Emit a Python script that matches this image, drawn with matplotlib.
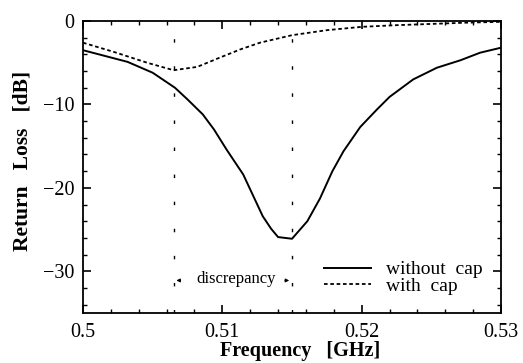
import matplotlib
matplotlib.use('Agg')
import matplotlib.pyplot as plt
from matplotlib.ticker import MultipleLocator

plt.rcParams['font.family'] = ['Liberation Serif', 'DejaVu Serif']

freq_no_cap = [0.5, 0.5016, 0.5032, 0.505, 0.5066, 0.5075, 0.5086, 0.5094, 0.5103,
               0.5115, 0.5129, 0.5135, 0.514, 0.515, 0.5161, 0.517, 0.5179, 0.5187,
               0.5199, 0.5211, 0.522, 0.5237, 0.5254, 0.5271, 0.5285, 0.53]
rl_no_cap = [-3.5, -4.2, -4.9, -6.2, -8.0, -9.4, -11.2, -13.0, -15.4,
             -18.4, -23.4, -24.9, -25.9, -26.1, -24.0, -21.3, -18.0, -15.6,
             -12.7, -10.6, -9.1, -7.0, -5.6, -4.7, -3.8, -3.2]

freq_cap = [0.5, 0.5022, 0.5046, 0.5065, 0.5082, 0.5098, 0.5113, 0.5127, 0.515,
            0.5175, 0.52, 0.5225, 0.525, 0.5275, 0.53]
rl_cap = [-2.6, -3.7, -5.0, -5.9, -5.5, -4.4, -3.4, -2.6, -1.7,
          -1.1, -0.7, -0.5, -0.35, -0.2, -0.1]

marker_freqs = [0.5065, 0.515]

fig = plt.figure(figsize=(5.23, 3.63), dpi=100)
ax = fig.add_axes([83 / 523, 1 - 313 / 363, 418 / 523, 292 / 363])

ax.plot(freq_no_cap, rl_no_cap, color='black', lw=1.4, label='without  cap')
ax.plot(freq_cap, rl_cap, color='black', lw=1.3, ls=(0, (2, 1.5)), label='with  cap')

for f in marker_freqs:
    ax.axvline(f, color='black', lw=1.0, ls=(0, (2.5, 17)))

ax.text(0.5110, -30.9, 'discrepancy', ha='center', va='center', fontsize=12)
ax.annotate('', xy=(marker_freqs[0], -31.1), xytext=(0.5072, -31.1),
            arrowprops=dict(arrowstyle='-|>', color='black', lw=0.8, mutation_scale=5))
ax.annotate('', xy=(marker_freqs[1], -31.1), xytext=(0.5143, -31.1),
            arrowprops=dict(arrowstyle='-|>', color='black', lw=0.8, mutation_scale=5))

ax.set_xlim(0.5, 0.53)
ax.set_ylim(-35, 0)
ax.set_xticks([0.5, 0.51, 0.52, 0.53])
ax.set_xticklabels(['0.5', '0.51', '0.52', '0.53'])
ax.set_yticks([0, -10, -20, -30])
ax.set_yticklabels(['0', '\u221210', '\u221220', '\u221230'])
ax.xaxis.set_minor_locator(MultipleLocator(0.002))
ax.yaxis.set_minor_locator(MultipleLocator(2))
ax.tick_params(which='both', direction='in', top=True, right=True, labelsize=14.5)
ax.tick_params(axis='x', pad=7)
ax.tick_params(axis='y', pad=6)
ax.tick_params(which='major', length=6, width=1.2)
ax.tick_params(which='minor', length=3, width=1)
for sp in ax.spines.values():
    sp.set_linewidth(1.3)

ax.set_xlabel('Frequency   [GHz]', fontsize=14.5, fontweight='bold')
ax.set_ylabel('Return   Loss   [dB]', fontsize=15.5, fontweight='bold')
ax.xaxis.set_label_coords(0.519, -0.095)
ax.yaxis.set_label_coords(-0.122, 0.52)

ax.legend(loc='lower right', bbox_to_anchor=(0.975, 0.035), frameon=False, fontsize=14,
          handlelength=2.4, handletextpad=0.8, labelspacing=-0.05, borderaxespad=0.0)

fig.savefig('out.png', dpi=100)
